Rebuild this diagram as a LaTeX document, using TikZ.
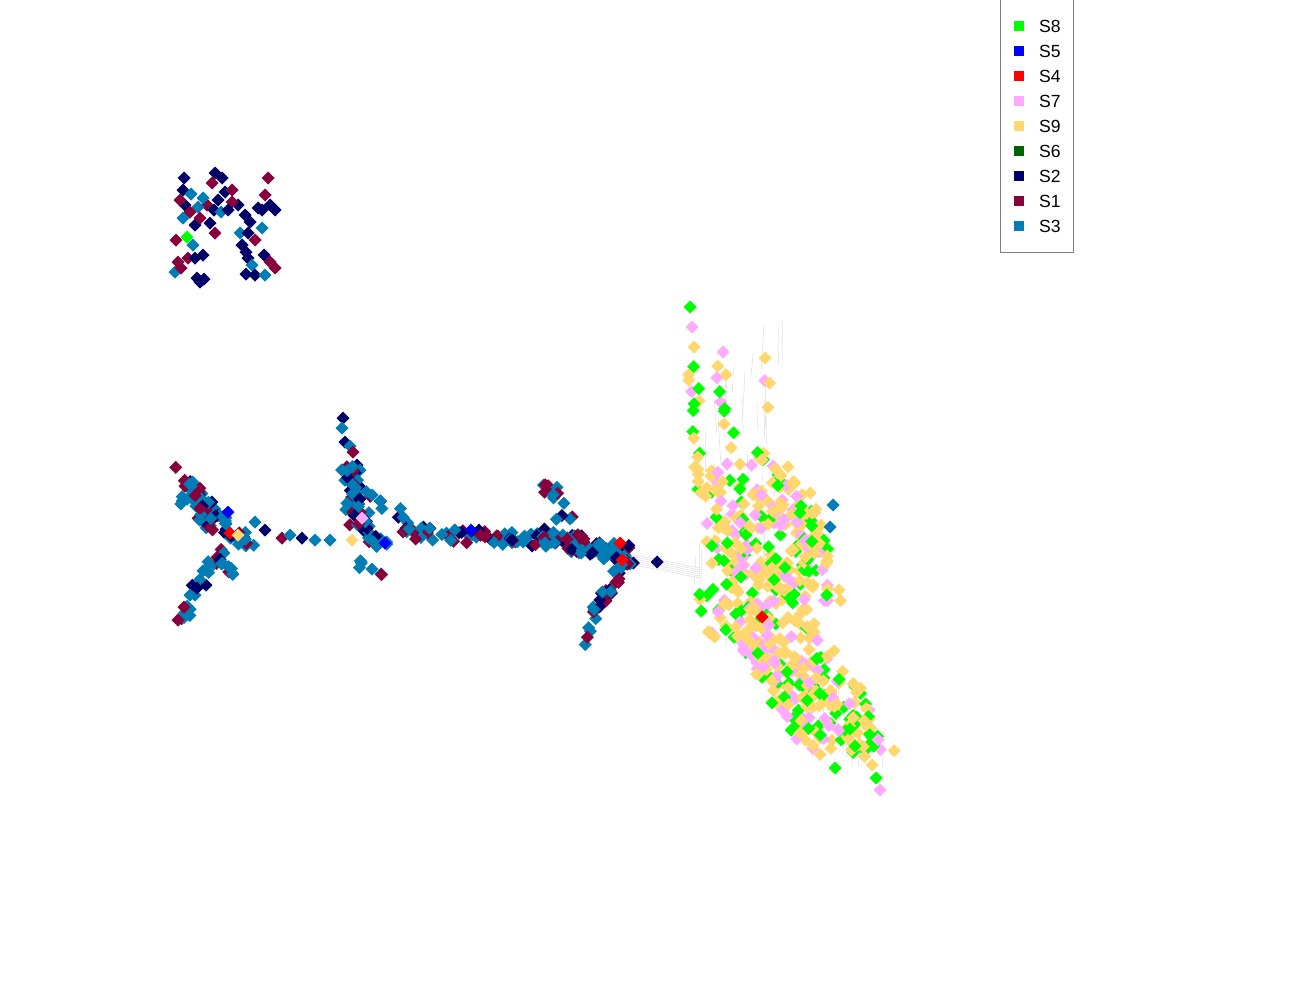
\documentclass[tikz,border=0pt]{standalone}
\usepackage{fontspec}
\setmainfont{Liberation Sans}
\usepackage{tikz}

\definecolor{colS1}{RGB}{136,0,60}
\definecolor{colS2}{RGB}{0,0,102}
\definecolor{colS3}{RGB}{0,125,180}
\definecolor{colS4}{RGB}{255,0,0}
\definecolor{colS5}{RGB}{0,0,255}
\definecolor{colS6}{RGB}{0,100,0}
\definecolor{colS7}{RGB}{255,170,255}
\definecolor{colS8}{RGB}{0,255,0}
\definecolor{colS9}{RGB}{255,215,110}

\pgfmathdeclarerandomlist{dark}{{colS2}{colS2}{colS2}{colS1}{colS1}{colS3}}
\pgfmathdeclarerandomlist{mix}{{colS2}{colS1}{colS3}{colS3}}
\pgfmathdeclarerandomlist{light}{{colS8}{colS9}{colS9}{colS7}}

% one diamond
\newcommand\dia[3]{\fill[#1] (#2,#3) +(-6.5,0) -- +(0,-6.5) -- +(6.5,0) -- +(0,6.5) -- cycle;}
% n diamonds scattered along a segment
\newcommand\strand[8]{%
  \foreach \k in {1,...,#5}{
    \pgfmathsetmacro\ft{rnd}
    \pgfmathsetmacro\px{#1+(#3-#1)*\ft+#6*rand}
    \pgfmathsetmacro\py{#2+(#4-#2)*\ft+#7*rand}
    \pgfmathrandomitem\cc{#8}
    \dia{\cc}{\px}{\py}
  }}

\begin{document}
\begin{tikzpicture}[x=0.2mm,y=-0.2mm,
    edge/.style={gray!25,line width=0.3pt},
    key/.style={minimum size=5.5pt,inner sep=0pt},
    keytext/.style={right,font=\fontsize{10}{12}\selectfont}]
  \useasboundingbox (0,0) rectangle (1300,1000);
  \pgfmathsetseed{11}

  % edges
  \foreach \k in {1,...,6}{
    \draw[edge] (630,{552+2*\k}) -- (700,{566+2*\k});
  }
  \foreach \k in {1,...,35}{
    \pgfmathsetmacro\ey{320+260*rnd}
    \pgfmathsetmacro\ex{695+100*rnd}
    \draw[edge] (\ex,\ey) -- ({\ex+3*rand},{\ey+20+30*rnd});
  }
  \foreach \k in {1,...,35}{
    \pgfmathsetmacro\ey{600+140*rnd}
    \pgfmathsetmacro\ex{715+(\ey-600)*0.8+70*rnd}
    \draw[edge] (\ex,\ey) -- ({\ex+3*rand},{\ey+15+25*rnd});
  }

  % top left group
  \foreach \x/\y/\c in {184/178/2,183/190/2,215/173/2,222/178/2,212/183/1,225/192/2,
      232/190/1,218/200/2,207/205/1,185/205/2,180/200/1,198/207/3,190/212/1,
      195/225/2,200/218/1,210/223/2,215/233/1,193/245/3,175/272/3,178/262/1,
      188/258/1,195/258/2,203/255/2,200/282/2,197/278/2,204/279/2,183/218/3,
      191/194/3,203/198/3,214/210/2,221/212/3,176/240/1,181/268/1,
      268/178/1,265/195/1,238/205/2,245/215/2,250/222/2,262/210/2,270/205/2,
      275/210/2,240/233/3,248/233/2,262/228/3,242/245/2,248/258/2,252/265/3,
      255/275/2,270/262/1,275/268/1,265/275/3,246/274/2,258/208/2,232/202/1,
      228/210/2,255/240/1,246/252/2,264/255/2}{
    \dia{colS\c}{\x}{\y}
  }
  \dia{colS8}{187}{237}

  % left star
  \strand{175}{470}{222}{520}{26}{5}{5}{mix}
  \strand{178}{622}{222}{545}{20}{6}{6}{mix}
  \strand{190}{505}{250}{545}{50}{10}{12}{mix}
  \strand{215}{548}{238}{580}{8}{6}{5}{mix}
  \foreach \x/\y/\c in {178/620/1,184/607/1,190/595/3,197/588/2,
      255/522/3,265/530/2,282/538/1,290/535/3,302/538/2,315/540/3,330/540/3}{
    \dia{colS\c}{\x}{\y}
  }
  \dia{colS5}{228}{512}
  \dia{colS4}{230}{533}
  \dia{colS9}{238}{535}

  % middle fan
  \foreach \x/\y/\c in {343/418/2,342/428/3,345/442/2,350/446/3,353/452/1,
      357/465/2,360/470/3}{
    \dia{colS\c}{\x}{\y}
  }
  \strand{345}{460}{360}{510}{24}{7}{6}{mix}
  \strand{350}{500}{380}{550}{34}{10}{10}{mix}
  \strand{365}{490}{410}{520}{10}{5}{5}{mix}
  \strand{350}{562}{385}{572}{7}{4}{4}{mix}
  \dia{colS7}{362}{518}
  \dia{colS9}{352}{540}
  \dia{colS5}{385}{543}

  % chain
  \strand{400}{532}{540}{540}{60}{6}{7}{mix}
  \dia{colS5}{471}{530}

  % right hook
  \strand{540}{535}{630}{555}{80}{8}{9}{mix}
  \strand{547}{478}{565}{520}{16}{8}{6}{mix}
  \strand{628}{560}{598}{605}{24}{6}{5}{mix}
  \strand{598}{605}{585}{648}{7}{3}{3}{mix}
  \dia{colS4}{620}{543}
  \dia{colS4}{622}{560}
  \dia{colS2}{657}{562}

  % right cloud
  \dia{colS8}{690}{307}
  \dia{colS7}{692}{327}
  \dia{colS9}{694}{347}
  \dia{colS7}{723}{352}
  \dia{colS9}{765}{358}
  \strand{692}{360}{700}{480}{14}{5}{5}{light}
  \strand{722}{365}{735}{480}{12}{7}{5}{light}
  \strand{765}{375}{760}{470}{8}{5}{4}{light}
  \strand{745}{470}{768}{620}{240}{50}{10}{light}
  \strand{768}{620}{850}{750}{230}{45}{10}{light}
  \strand{800}{495}{830}{600}{50}{12}{8}{light}
  \strand{845}{730}{875}{770}{10}{8}{6}{light}
  \strand{700}{585}{720}{660}{8}{6}{6}{light}
  \dia{colS9}{872}{765}
  \dia{colS8}{876}{778}
  \dia{colS7}{880}{790}
  \dia{colS8}{835}{768}
  \dia{colS3}{833}{505}
  \dia{colS3}{830}{527}
  \dia{colS4}{762}{617}

  % legend
  \draw[gray] (1000,0) -- (1000,252) -- (1073,252) -- (1073,0);
  \foreach \s [count=\i] in {8,5,4,7,9,6,2,1,3}{
    \node[key,fill=colS\s] (key\s) at (1019,{1+25*\i}) {};
    \node[keytext] at (1033,{1+25*\i}) {S\s};
  }
\end{tikzpicture}
\end{document}
